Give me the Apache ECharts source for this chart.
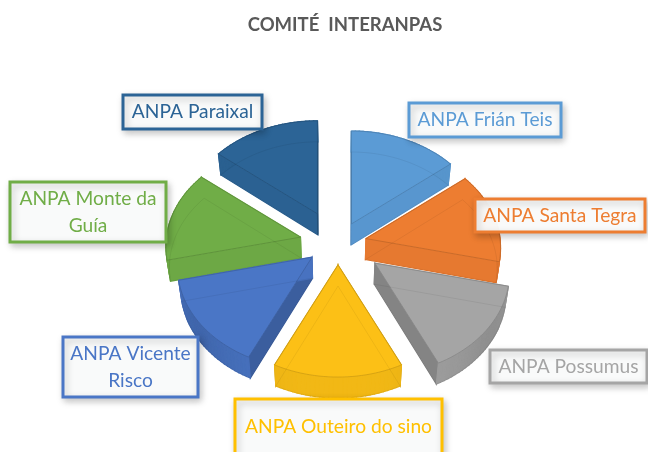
<!DOCTYPE html>
<html>
<head>
<meta charset="utf-8">
<style>
html, body { margin: 0; padding: 0; background: #fff; }
#chart { width: 648px; height: 452px; }
</style>
<script src="https://cdn.jsdelivr.net/npm/echarts@6/dist/echarts.min.js"></script>
</head>
<body>
<div id="chart"></div>
<script>
var sliceNames = ['ANPA Frián Teis', 'ANPA Santa Tegra', 'ANPA Possumus', 'ANPA Outeiro do sino', 'ANPA Vicente Risco', 'ANPA Monte da Guía', 'ANPA Paraixal'];
var sliceValues = [1, 1, 1, 1, 1, 1, 1];
var sliceColors = ['#5b9bd5', '#ed7d31', '#a5a5a5', '#fcc016', '#4a76c6', '#70ad47', '#2c6496'];
// explosion of each point, like the per point setting of the original pie
var sliceExplode = [0.88, 0.82, 1.35, 0.92, 0.95, 1.1, 1.35];

var labelTexts = ['ANPA Frián Teis', 'ANPA Santa Tegra', 'ANPA Possumus', 'ANPA Outeiro do sino', 'ANPA Vicente\nRisco', 'ANPA Monte da\nGuía', 'ANPA Paraixal'];
var labelBoxes = [
    [409, 103, 152, 34],
    [475, 199, 170, 33],
    [490, 350, 157, 33],
    [235, 399, 207, 60],
    [63, 337, 135, 60],
    [10, 182, 156, 60],
    [123, 95, 139, 34]
];

var cx = 338, cy = 243;
var RX = 134, RY = 101.6, PERSP = 0.0927;
var EX = 35, EY = 24, DEPTH = 21;

var myChart = echarts.init(document.getElementById('chart'));

function project(a, x0, y0) {
    var den = 1 + PERSP * Math.cos(a);
    return [x0 + RX * Math.sin(a) / den, y0 - RY * Math.cos(a) / den];
}
function under(p) {  //bottom face is a little smaller
    return [cx + (p[0] - cx) * 0.98, p[1] + DEPTH];
}
function shade(color, amount) {
    var n = parseInt(color.slice(1), 16);
    var f = 1 - amount;
    return 'rgb(' + Math.round((n >> 16) * f) + ',' + Math.round(((n >> 8) & 255) * f) + ',' + Math.round((n & 255) * f) + ')';
}

function renderSlice(params, api) {
    var i = params.dataIndex;
    var total = sliceValues.reduce(function (s, v) { return s + v; }, 0);
    var before = 0;
    for (var k = 0; k < i; k++) before += sliceValues[k];
    var a0 = before / total * Math.PI * 2;
    var a1 = a0 + api.value(0) / total * Math.PI * 2;
    var mid = (a0 + a1) / 2;
    var ax = cx + sliceExplode[i] * EX * Math.sin(mid);
    var ay = cy - sliceExplode[i] * EY * Math.cos(mid);
    var color = sliceColors[i];

    var rim = [];
    var steps = 28;
    for (var s = 0; s <= steps; s++) {
        rim.push(project(a0 + (a1 - a0) * s / steps, ax, ay));
    }
    var apex = [ax, ay];
    var children = [];
    var z = Math.round(100 - 50 * Math.cos(mid));

    function face(points, fill) {
        children.push({
            type: 'polygon',
            z2: z,
            shape: { points: points },
            style: { fill: fill, stroke: fill, lineWidth: 1.2 }
        });
    }
    function wallShade(normal) {
        return Math.abs(Math.sin(normal)) > 0.8 ? 0.2 : 0.03;
    }

    //walls
    face([apex, rim[0], under(rim[0]), under(apex)], shade(color, wallShade(a0 - Math.PI / 2)));
    face([apex, rim[steps], under(rim[steps]), under(apex)], shade(color, wallShade(a1 + Math.PI / 2)));
    for (var w = 0; w < steps; w++) {
        var am = a0 + (a1 - a0) * (w + 0.5) / steps;
        var front = Math.min(1, Math.max(0, -Math.cos(am) - 0.15) * 2);
        var amount = 0.04 + 0.2 * Math.pow(Math.abs(Math.sin(am)), 3) * front;
        face([rim[w], rim[w + 1], under(rim[w + 1]), under(rim[w])], shade(color, amount));
    }
    //top
    var top = [apex].concat(rim);
    children.push({
        type: 'polygon',
        z2: z,
        shape: { points: top },
        style: { fill: color, stroke: shade(color, 0.18), lineWidth: 0.8 }
    });
    //hidden edges show through, the original is slightly transparent
    var low = [under(apex)].concat(rim.map(under));
    children.push({
        type: 'polygon',
        z2: z,
        shape: { points: low },
        style: { fill: 'none', stroke: 'rgba(0,0,0,0.08)', lineWidth: 0.8 }
    });
    return { type: 'group', children: children };
}

var labelGraphics = [];
labelBoxes.forEach(function (b, i) {
    labelGraphics.push({
        type: 'rect',
        z: 20,
        shape: { x: b[0], y: b[1], width: b[2], height: b[3] },
        style: {
            fill: 'rgba(250,251,251,0.97)',
            stroke: i === 3 ? '#ffc000' : sliceColors[i],
            lineWidth: 3,
            shadowBlur: 7,
            shadowOffsetX: 2,
            shadowOffsetY: 3,
            shadowColor: 'rgba(0,0,0,0.22)'
        }
    });
    labelGraphics.push({
        type: 'text',
        z: 21,
        x: b[0] + b[2] / 2,
        y: b[1] + (i === 3 ? 28 : b[3] / 2),
        style: {
            text: labelTexts[i],
            fill: i === 3 ? '#ffc000' : sliceColors[i],
            font: '19.2px Lato',
            lineHeight: 27,
            align: 'center',
            verticalAlign: 'middle'
        }
    });
});

var option = {
    animation: false,
    title: {
        text: 'COMITÉ  INTERANPAS',
        left: 340,
        top: 11,
        textAlign: 'center',
        textStyle: {
            fontFamily: 'Lato',
            fontSize: 18.5,
            fontWeight: 'bold',
            color: '#595959'
        }
    },
    graphic: labelGraphics,
    series: [
        {
            type: 'custom',
            coordinateSystem: 'none',
            silent: true,
            renderItem: renderSlice,
            data: sliceValues.map(function (v, i) {
                return { name: sliceNames[i], value: [v] };
            })
        }
    ]
};
myChart.setOption(option);
</script>
</body>
</html>
